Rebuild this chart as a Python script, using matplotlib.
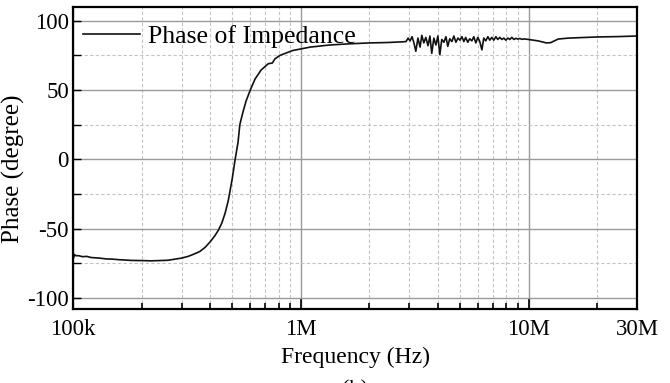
import numpy as np
import matplotlib
matplotlib.use('Agg')
import matplotlib.pyplot as plt
from matplotlib.ticker import FixedLocator, FixedFormatter, NullFormatter

plt.rcParams['font.family'] = ['Liberation Serif', 'DejaVu Serif']

# phase of impedance
freq_low = [1.0e5, 1.005e5, 1.01e5, 1.03e5, 1.06e5, 1.1e5, 1.15e5, 1.2e5, 1.3e5, 1.4e5,
            1.5e5, 1.6e5, 1.7e5, 1.8e5, 2.0e5, 2.2e5, 2.4e5, 2.6e5, 2.8e5, 3.0e5,
            3.2e5, 3.4e5, 3.6e5, 3.8e5, 4.0e5, 4.2e5, 4.35e5, 4.5e5, 4.65e5, 4.8e5,
            4.9e5, 5.0e5, 5.15e5, 5.3e5, 5.4e5, 5.55e5, 5.75e5, 6.0e5, 6.3e5, 6.7e5,
            7.2e5, 7.5e5, 7.7e5, 8.1e5, 9.2e5, 1.1e6, 1.34e6, 1.6e6, 2.0e6, 2.4e6, 2.8e6]
phase_low = [-66, -71, -68.5, -69.5, -69.5, -70.2, -70.0, -70.8, -71.2, -71.8,
             -72.0, -72.4, -72.6, -72.9, -73.0, -73.2, -73.0, -72.8, -72.0, -71.2,
             -70.0, -68.3, -66.5, -63.5, -59.5, -55, -51, -46, -39, -30,
             -22, -14, 0, 12, 25, 33, 42, 50, 58, 64.5,
             69, 69.5, 72.5, 75, 78.5, 81, 82.5, 83.3, 84, 84.3, 84.8]

freq_mid_mhz = [2.90, 2.96, 3.02, 3.08, 3.14, 3.20, 3.27, 3.34, 3.40, 3.47,
                3.54, 3.62, 3.69, 3.76, 3.84, 3.92, 4.00, 4.08, 4.16, 4.25,
                4.34, 4.42, 4.51, 4.61, 4.70, 4.80, 4.90, 5.00, 5.10, 5.20,
                5.30, 5.41, 5.52, 5.64, 5.75, 5.87, 5.99, 6.11, 6.24, 6.36,
                6.49, 6.63, 6.76, 6.90, 7.04, 7.19, 7.33, 7.48, 7.64, 7.79,
                7.95, 8.12, 8.28, 8.45, 8.63, 8.80, 8.98, 9.17, 9.35, 9.55]
phase_mid = [85.0, 87.5, 85.5, 88.5, 84.0, 78.0, 87.5, 81.0, 89.5, 84.0,
             88.0, 82.0, 89.0, 76.5, 87.5, 82.5, 89.0, 75.5, 86.5, 84.5,
             88.5, 81.5, 87.0, 85.0, 89.0, 84.5, 87.5, 86.0, 88.5, 85.0,
             88.0, 84.5, 87.0, 85.5, 88.5, 84.0, 88.0, 85.0, 79.0, 87.5,
             85.5, 88.5, 86.0, 88.0, 86.0, 88.5, 86.5, 88.0, 86.5, 87.5,
             86.0, 87.5, 86.5, 88.0, 86.5, 87.3, 86.8, 87.2, 86.6, 86.9]

freq_high = [10e6, 11e6, 12e6, 12.5e6, 13.5e6, 15e6, 20e6, 25e6, 30e6]
phase_high = [86.5, 85.5, 84.0, 84.2, 86.8, 87.5, 88.3, 88.6, 89.0]

xticks = [1e5, 1e6, 1e7, 3e7]
xticklabels = ['100k', '1M', '10M', '30M']
yticks = [-100, -50, 0, 50, 100]
yticklabels = ['-100', '-50', '0', '50', '100']

freq = np.concatenate([freq_low, np.array(freq_mid_mhz) * 1e6, freq_high])
phase = np.concatenate([phase_low, phase_mid, phase_high])

fig = plt.figure(figsize=(6.7, 3.83), dpi=100)
ax = fig.add_axes([0.109, 0.193, 0.842, 0.789])

ax.plot(freq, phase, color='#111111', lw=1.2, label='Phase of Impedance')
ax.set_xscale('log')
ax.set_xlim(1e5, 3e7)
ax.set_ylim(-108, 110)

ax.xaxis.set_major_locator(FixedLocator(xticks))
ax.xaxis.set_major_formatter(FixedFormatter(xticklabels))
minor_x = [m * 10 ** k for k in (5, 6) for m in range(2, 10)] + [2e7]
ax.xaxis.set_minor_locator(FixedLocator(minor_x))
ax.xaxis.set_minor_formatter(NullFormatter())
ax.set_yticks(yticks)
ax.set_yticklabels(yticklabels)
ax.yaxis.set_minor_locator(FixedLocator([-75, -25, 25, 75]))

ax.grid(which='major', color='#9a9a9a', lw=1.0, ls='-')
ax.grid(which='minor', color='#c4c4c4', lw=0.8, ls=(0, (3, 2)))
ax.set_axisbelow(True)

ax.tick_params(which='both', direction='in', labelsize=16.5, color='black')
ax.tick_params(axis='x', which='major', length=7, width=1.2, pad=7)
ax.tick_params(axis='x', which='minor', length=4, width=1.2)
ax.tick_params(axis='y', which='both', length=6, width=1.0, pad=3)
for s in ax.spines.values():
    s.set_linewidth(1.6)
    s.set_color('black')

ax.set_xlabel('Frequency (Hz)', fontsize=17, labelpad=5)
ax.set_ylabel('Phase (degree)', fontsize=18)
ax.yaxis.set_label_coords(-0.085, 0.464)

ax.legend(loc='upper left', bbox_to_anchor=(0.0, 0.975), frameon=False, fontsize=18.5,
          handlelength=2.2, handletextpad=0.3, borderaxespad=0.1, borderpad=0.3)

fig.text(0.53, 0.008, '(b)', fontsize=16, ha='center', va='top')

fig.savefig('out.png', dpi=100)
